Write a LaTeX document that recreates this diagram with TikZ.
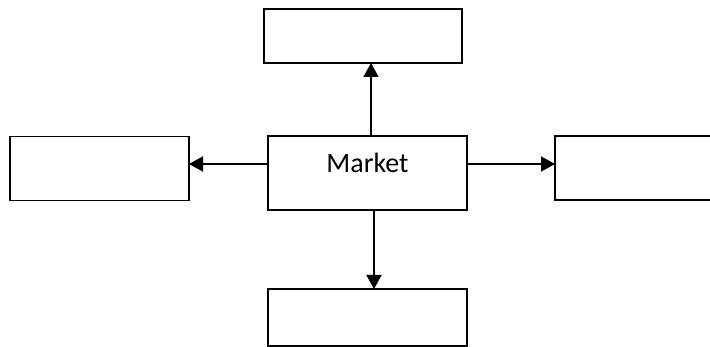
\documentclass[tikz,border=0pt]{standalone}
\usepackage{fontspec}
\setmainfont{Carlito}
\usetikzlibrary{arrows.meta}
\begin{document}
\begin{tikzpicture}[x=1pt,y=-1pt,
    box/.style={draw, line width=1.6pt, inner sep=0pt, outer sep=0pt},
    link/.style={line width=1.5pt, -{Triangle[length=14pt,width=15pt]}}]
    % Fix the page to the reference size
    \useasboundingbox (0,0) rectangle (710,347);

    % Boxes round the market
    \node[box, minimum width=198pt, minimum height=54pt] (goal) at (363,36) {};
    \node[box, minimum width=179pt, minimum height=64pt] (west) at (99.5,168.5) {};
    \node[box, minimum width=180pt, minimum height=64pt] (east) at (645,168) {};
    \node[box, minimum width=199pt, minimum height=57pt] (south) at (367.5,317.5) {};
    \node[box, minimum width=199pt, minimum height=74pt, text depth=21pt,
          font=\fontsize{28}{32}\selectfont] (market) at (367.5,173) {Market};

    % Arrows out of the market
    \draw[link] ([xshift=3.5pt]market.north) -- ([xshift=3.5pt]market.north |- goal.south);
    \draw[link] ([xshift=6.5pt]market.south) -- ([xshift=6.5pt]market.south |- south.north);
    \draw[link] ([yshift=9pt]market.west) -- ([yshift=9pt]market.west -| west.east);
    \draw[link] ([yshift=9pt]market.east) -- ([yshift=9pt]market.east -| east.west);
\end{tikzpicture}
\end{document}
